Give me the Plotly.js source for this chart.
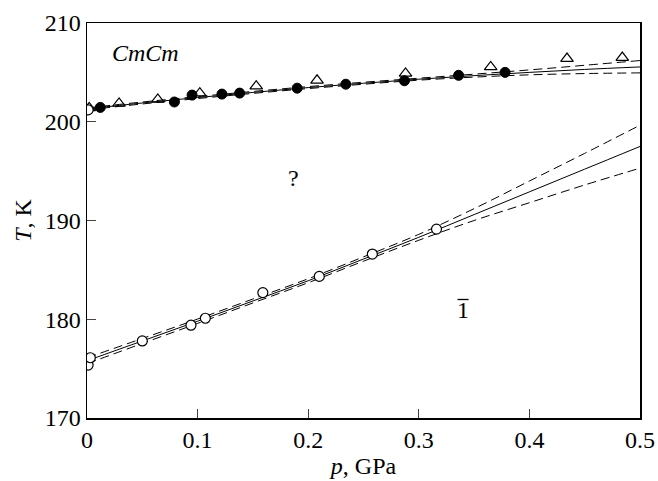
<!DOCTYPE html>
<html>
<head>
<meta charset="utf-8">
<script src="https://cdn.plot.ly/plotly-3.0.1.min.js"></script>
<style>html,body{margin:0;padding:0;background:#fff;}#chart{width:658px;height:481px;}</style>
</head>
<body>
<div id="chart"></div>
<script>
// Filled circles (upper boundary)
const filledP = [0.012, 0.079, 0.095, 0.122, 0.138, 0.190, 0.234, 0.287, 0.336, 0.378];
const filledT = [201.45, 202.0, 202.7, 202.8, 202.9, 203.4, 203.8, 204.15, 204.7, 205.0];
// Open triangles (upper boundary)
const triP = [0.002, 0.029, 0.064, 0.102, 0.153, 0.208, 0.288, 0.365, 0.434, 0.484];
const triT = [201.4, 201.85, 202.26, 202.9, 203.6, 204.2, 204.9, 205.55, 206.4, 206.5];
// Open circles
const openP = [0.001, 0.001, 0.003, 0.050, 0.094, 0.107, 0.159, 0.210, 0.258, 0.316];
const openT = [201.2, 175.36, 176.1, 177.8, 179.4, 180.1, 182.7, 184.34, 186.6, 189.13];
// Fit curves
const fitP = [0, 0.05, 0.1, 0.15, 0.2, 0.25, 0.3, 0.35, 0.4, 0.45, 0.5];
const upperFit = [201.3, 201.9, 202.45, 202.97, 203.46, 203.9, 204.31, 204.67, 205.0, 205.3, 205.55];
const upperHi  = [201.4, 202.0, 202.55, 203.07, 203.56, 204.0, 204.41, 204.82, 205.25, 205.72, 206.2];
const upperLo  = [201.2, 201.8, 202.35, 202.87, 203.36, 203.8, 204.21, 204.52, 204.75, 204.88, 204.95];
const lowerFit = [175.8, 177.8, 179.8, 181.85, 183.9, 186.1, 188.3, 190.6, 192.9, 195.2, 197.5];
const lowerHi  = [176.1, 178.05, 180.02, 182.05, 184.1, 186.32, 188.6, 191.2, 194.0, 196.8, 199.65];
const lowerLo  = [175.5, 177.55, 179.58, 181.65, 183.7, 185.88, 188.0, 190.0, 191.8, 193.6, 195.3];
// Labels
const phaseLabels = ["<i>CmCm</i>", "?", "1"];
const phaseP = [0.021, 0.1865, 0.340];
const phaseT = [206.94, 194.26, 180.93];

const F = "Liberation Serif, Times New Roman, serif";
const solid = {color: "#000", width: 1};
const dashed = {color: "#000", width: 1, dash: "9px,5px"};
function line(y, style) {
  return {x: fitP, y: y, type: "scatter", mode: "lines", line: Object.assign({shape: "spline"}, style), hoverinfo: "skip"};
}
const traces = [
  line(upperHi, dashed), line(upperLo, dashed), line(upperFit, solid),
  line(lowerHi, dashed), line(lowerLo, dashed), line(lowerFit, solid),
  {x: triP, y: triT, type: "scatter", mode: "markers",
   marker: {symbol: "triangle-up-open", size: 11, color: "#000", line: {width: 1.2, color: "#000"}}},
  {x: filledP, y: filledT, type: "scatter", mode: "markers",
   marker: {symbol: "circle", size: 10, color: "#000", line: {width: 1, color: "#000"}}},
  {x: openP, y: openT, type: "scatter", mode: "markers",
   marker: {symbol: "circle", size: 10, color: "#fff", line: {width: 1.2, color: "#000"}}}
];
const annotations = phaseLabels.map((t, i) => ({
  x: phaseP[i], y: phaseT[i], text: t, showarrow: false,
  xanchor: i === 0 ? "left" : "center", yanchor: "middle",
  font: {family: F, size: 24, color: "#000"}
}));
// overbar of the "1" phase label
const barHalf = 0.005, barT = 182.0;
const shapes = [{type: "line", xref: "x", yref: "y",
  x0: phaseP[2] - barHalf, x1: phaseP[2] + barHalf, y0: barT, y1: barT,
  line: {color: "#000", width: 1.3}}];
const layout = {
  width: 658, height: 481,
  margin: {l: 87, r: 18, t: 23, b: 63},
  paper_bgcolor: "#fff", plot_bgcolor: "#fff",
  showlegend: false,
  font: {family: F, size: 24, color: "#000"},
  xaxis: {range: [0, 0.5], dtick: 0.1, tick0: 0, ticks: "inside", ticklen: 9, tickwidth: 1.2,
          showline: true, linewidth: 1.5, linecolor: "#000", mirror: true, showgrid: false, zeroline: false,
          tickfont: {family: F, size: 24},
          title: {text: "<i>p</i>, GPa", font: {family: F, size: 24}, standoff: 5}},
  yaxis: {range: [170, 210], dtick: 10, tick0: 170, ticks: "inside", ticklen: 9, tickwidth: 1.2,
          showline: true, linewidth: 1.5, linecolor: "#000", mirror: true, showgrid: false, zeroline: false,
          tickfont: {family: F, size: 24},
          title: {text: "<i>T</i>, K", font: {family: F, size: 24}, standoff: 6}},
  annotations: annotations,
  shapes: shapes
};
Plotly.newPlot("chart", traces, layout, {displayModeBar: false, staticPlot: true});
</script>
</body>
</html>
